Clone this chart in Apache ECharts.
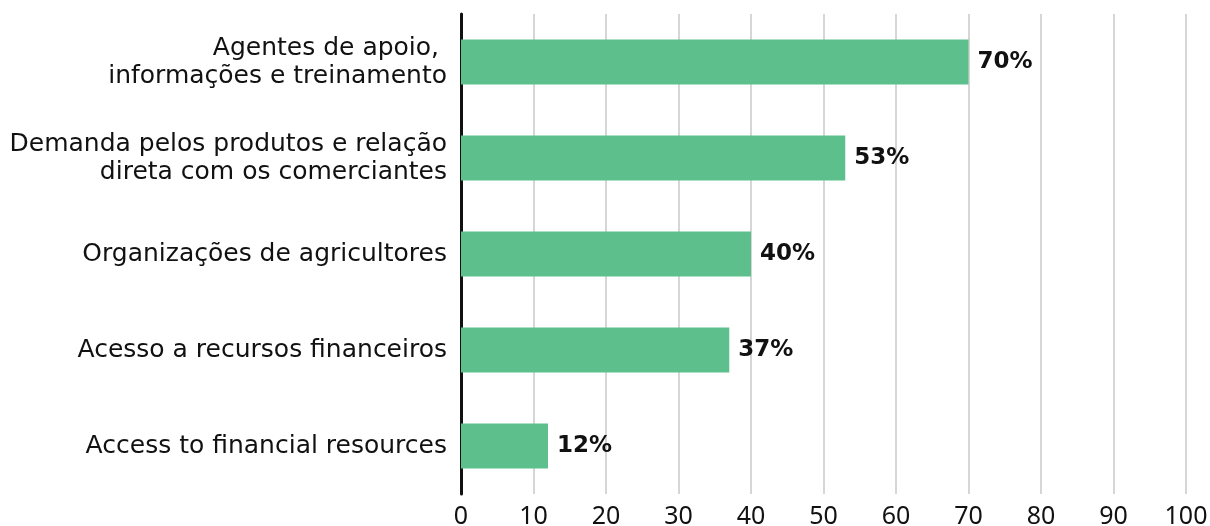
<!DOCTYPE html>
<html>
<head>
<meta charset="utf-8">
<script src="https://cdn.jsdelivr.net/npm/echarts@6/dist/echarts.min.js"></script>
<style>
  html, body { margin: 0; padding: 0; background: #fff; }
  #chart { width: 1210px; height: 526px; }
</style>
</head>
<body>
<div id="chart"></div>
<script>
var categories = [
  'Agentes de apoio, \ninformações e treinamento',
  'Demanda pelos produtos e relação\ndireta com os comerciantes',
  'Organizações de agricultores',
  'Acesso a recursos financeiros',
  'Access to financial resources'
];
var values = [70, 53, 40, 37, 12];
var xTicks = [0, 10, 20, 30, 40, 50, 60, 70, 80, 90, 100];

var labelFont = '"DejaVu Sans", sans-serif';
var tickFont = '"Noto Sans", sans-serif';
var chart = echarts.init(document.getElementById('chart'));
var option = {
  animation: false,
  grid: { left: 461, right: 24, top: 14, bottom: 32, containLabel: false, outerBoundsMode: 'none' },
  xAxis: {
    type: 'value',
    min: xTicks[0],
    max: xTicks[xTicks.length - 1],
    interval: 10,
    axisLine: { show: false },
    axisTick: { show: false },
    splitLine: { show: true, lineStyle: { color: '#d6d6d6', width: 2 } },
    axisLabel: { color: '#111', fontSize: 25, fontFamily: tickFont, margin: 10 }
  },
  yAxis: {
    type: 'category',
    inverse: true,
    data: categories,
    axisLine: { show: true, lineStyle: { color: '#111', width: 3 } },
    axisTick: { show: false },
    axisLabel: {
      color: '#111', fontSize: 25, fontFamily: labelFont, margin: 14,
      lineHeight: 28, align: 'right', padding: [5, 0, 0, 0]
    }
  },
  series: [{
    type: 'bar',
    data: values,
    barWidth: 45,
    itemStyle: { color: '#5dbf8c' },
    label: {
      show: true,
      position: 'right',
      distance: 9,
      formatter: '{c}%',
      color: '#111',
      fontSize: 23,
      fontWeight: 'bold',
      fontFamily: labelFont
    }
  }]
};
chart.setOption(option);
</script>
</body>
</html>
